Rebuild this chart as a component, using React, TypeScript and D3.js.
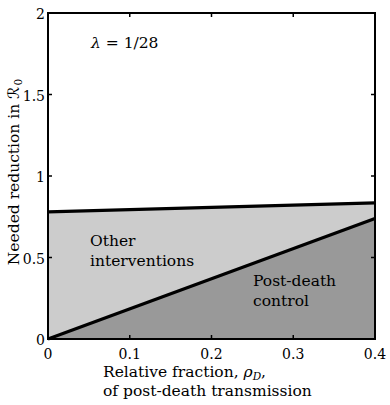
import React from "react";
import * as d3 from "d3";

const xTicks = [0, 0.1, 0.2, 0.3, 0.4];
const yTicks = [0, 0.5, 1, 1.5, 2];
const rhoD = [0, 0.4];
const totalReduction = [0.78, 0.835];
const postDeathReduction = [0, 0.74];

const W = 390, H = 405;
const L = 48, R = 375, T = 13, B = 339;
const FONT = "'DejaVu Serif', 'Liberation Serif', 'DejaVu Sans', serif";

export default function App() {
  const x = d3.scaleLinear().domain([0, 0.4]).range([L, R]);
  const y = d3.scaleLinear().domain([0, 2]).range([B, T]);
  const pts = rhoD.map((r, i) => ({ r, top: totalReduction[i], low: postDeathReduction[i] }));
  const areaLight = d3.area<any>().x(d => x(d.r)).y0(d => y(d.low)).y1(d => y(d.top))(pts)!;
  const areaDark = d3.area<any>().x(d => x(d.r)).y0(() => y(0)).y1(d => y(d.low))(pts)!;
  const lineTop = d3.line<any>().x(d => x(d.r)).y(d => y(d.top))(pts)!;
  const lineLow = d3.line<any>().x(d => x(d.r)).y(d => y(d.low))(pts)!;
  const ts: React.CSSProperties = { fontFamily: FONT, fontSize: 15.5 };
  const tk: React.CSSProperties = { fontFamily: FONT, fontSize: 14 };
  return (
    <svg width={W} height={H} style={{ position: "absolute", left: 0, top: 0 }}>
      <rect width={W} height={H} fill="#fff" />
      <path d={areaLight} fill="#cccccc" />
      <path d={areaDark} fill="#999999" />
      <path d={lineTop} stroke="#000" strokeWidth={3.2} fill="none" />
      <path d={lineLow} stroke="#000" strokeWidth={3.2} fill="none" />
      {xTicks.slice(1, -1).map(t => (
        <g key={"xt" + t}>
          <line x1={x(t)} x2={x(t)} y1={B} y2={B - 4} stroke="#000" strokeWidth={1.5} />
          <line x1={x(t)} x2={x(t)} y1={T} y2={T + 4} stroke="#000" strokeWidth={1.5} />
        </g>
      ))}
      {yTicks.slice(1, -1).map(t => (
        <g key={"yt" + t}>
          <line x1={L} x2={L + 4} y1={y(t)} y2={y(t)} stroke="#000" strokeWidth={1.5} />
          <line x1={R} x2={R - 4} y1={y(t)} y2={y(t)} stroke="#000" strokeWidth={1.5} />
        </g>
      ))}
      <rect x={L} y={T} width={R - L} height={B - T} fill="none" stroke="#000" strokeWidth={2} />
      {xTicks.map(t => (
        <text key={"xl" + t} x={x(t)} y={B + 20} textAnchor="middle" style={tk}>{t === 0 ? "0" : t.toFixed(1)}</text>
      ))}
      {yTicks.map(t => (
        <text key={"yl" + t} x={L - 3} y={y(t) + 6} textAnchor="end" style={tk}>{String(t)}</text>
      ))}
      <text x={103} y={377} style={ts}>
        Relative fraction, <tspan fontStyle="italic">ρ</tspan><tspan fontStyle="italic" style={{ fontSize: 10.5 }} dy={3}>D</tspan><tspan dy={-3}>,</tspan>
      </text>
      <text x={103} y={396} style={ts}>of post-death transmission</text>
      <text transform={`translate(19, 172) rotate(-90)`} textAnchor="middle" style={ts}>
        Needed reduction in <tspan>ℛ</tspan><tspan style={{ fontSize: 10.5 }} dx={1} dy={3}>0</tspan>
      </text>
      <text x={91} y={48} style={ts}>
        <tspan fontStyle="italic">λ</tspan> = 1/28
      </text>
      <text x={90} y={246} style={ts}>Other</text>
      <text x={90} y={266} style={ts}>interventions</text>
      <text x={253} y={286} style={ts}>Post-death</text>
      <text x={253} y={306} style={ts}>control</text>
    </svg>
  );
}
